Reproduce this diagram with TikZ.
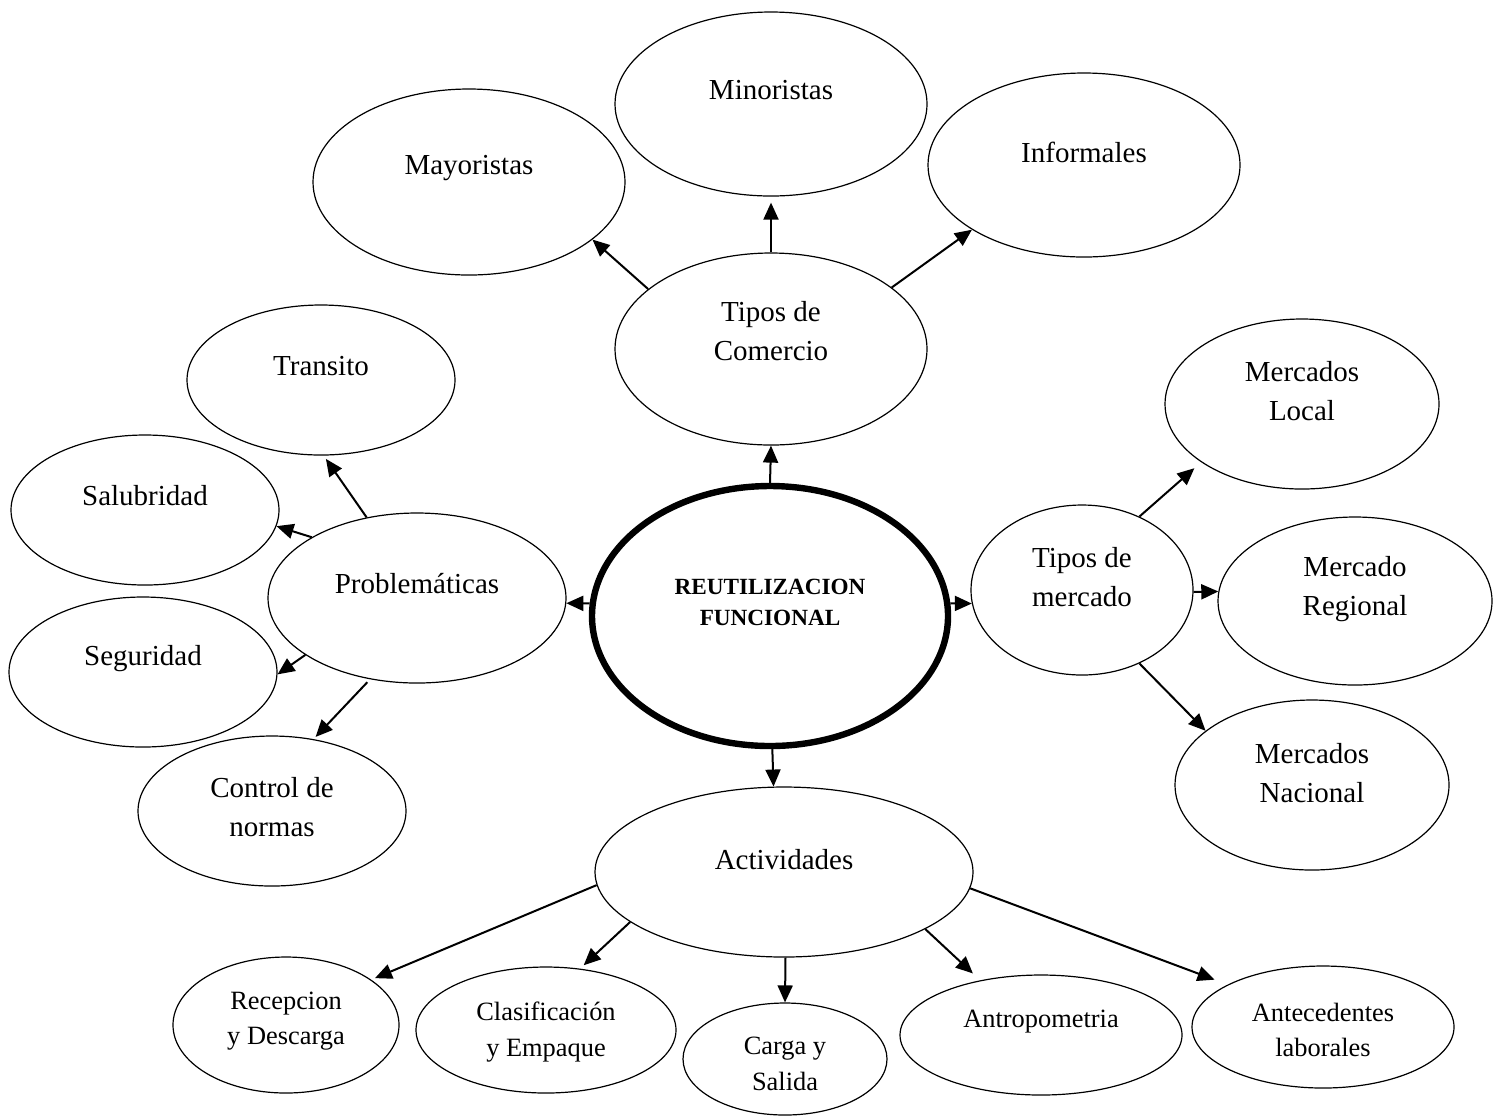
\documentclass[tikz,border=0pt]{standalone}
\usepackage{fontspec}
\setmainfont{Liberation Serif}
\usetikzlibrary{shapes.geometric,arrows.meta}
\begin{document}
\begin{tikzpicture}[x=0.5pt,y=-0.5pt,
  ell/.style={draw, ellipse, line width=0.6pt, inner sep=0pt},
  big/.style={font=\fontsize{14.5}{19.5}\selectfont, align=center},
  small/.style={font=\fontsize{13.2}{17.8}\selectfont, align=center},
  core/.style={font=\fontsize{11.6}{15.5}\selectfont\bfseries, align=center},
  arr/.style={line width=1pt, -{Triangle[length=8.5pt,width=7.5pt]}},
]
\useasboundingbox (0,0) rectangle (1502,1116);

% top
\node[ell, minimum width=156pt, minimum height=93pt, label={[big,yshift=7pt]center:Mayoristas}] (may) at (469,182) {};
\node[ell, minimum width=156pt, minimum height=92pt, label={[big,yshift=7pt]center:Minoristas}] (min) at (771,104) {};
\node[ell, minimum width=156pt, minimum height=92pt, label={[big,yshift=6.5pt]center:Informales}] (inf) at (1084,165) {};
\node[ell, minimum width=156pt, minimum height=96pt, label={[big,yshift=9pt]center:Tipos de\\Comercio}] (tdc) at (771,349) {};

% left
\node[ell, minimum width=134pt, minimum height=75pt, label={[big,yshift=7pt]center:Transito}] (tra) at (321,380) {};
\node[ell, minimum width=134pt, minimum height=75pt, label={[big,yshift=7pt]center:Salubridad}] (sal) at (145,510) {};
\node[ell, minimum width=134pt, minimum height=75pt, label={[big,yshift=6.5pt]center:Seguridad}] (seg) at (143,672) {};
\node[ell, minimum width=134pt, minimum height=75pt, label={[big,yshift=2pt]center:Control de\\normas}] (con) at (272,811) {};
\node[ell, minimum width=149pt, minimum height=85pt, label={[big,yshift=7pt]center:Problemáticas}] (prob) at (417,598) {};

% centre
\node[draw, ellipse, line width=3.2pt, inner sep=0pt, minimum width=178pt, minimum height=130pt,
      label={[core,yshift=7pt]center:REUTILIZACION\\FUNCIONAL}] (reut) at (770,616) {};

% right
\node[ell, minimum width=111pt, minimum height=85pt, label={[big,yshift=6.5pt]center:Tipos de\\mercado}] (tdm) at (1082,590) {};
\node[ell, minimum width=137pt, minimum height=85pt, label={[big,yshift=6.5pt]center:Mercados\\Local}] (loc) at (1302,404) {};
\node[ell, minimum width=137pt, minimum height=84pt, label={[big,yshift=6pt]center:Mercado\\Regional}] (reg) at (1355,601) {};
\node[ell, minimum width=137pt, minimum height=85pt, label={[big,yshift=6pt]center:Mercados\\Nacional}] (nac) at (1312,785) {};

% bottom
\node[ell, minimum width=189pt, minimum height=85pt, label={[big,yshift=6pt]center:Actividades}] (act) at (784,872) {};
\node[ell, minimum width=113pt, minimum height=68pt, label={[small,yshift=2pt]center:Recepcion\\y Descarga}] (rec) at (286,1025) {};
\node[ell, minimum width=130pt, minimum height=63pt, label={[small,yshift=-1pt]center:Clasificación\\y Empaque}] (cla) at (546,1030) {};
\node[ell, minimum width=102pt, minimum height=56pt, label={[small,yshift=-2.5pt]center:Carga y\\Salida}] (car) at (785,1059) {};
\node[ell, minimum width=141pt, minimum height=60pt, label={[small,yshift=6.5pt]center:Antropometria}] (ant) at (1041,1035) {};
\node[ell, minimum width=131pt, minimum height=61pt, label={[small,yshift=-1.5pt]center:Antecedentes\\laborales}] (ate) at (1323,1027) {};

% connectors
\draw[arr] (tdc.154) -- (may.-25);
\draw[arr, shorten >=3pt] (tdc.north) -- (min.south);
\draw[arr] (tdc.27) -- (inf.-150);
\draw[arr] (reut.north) -- (tdc.south);
\draw[arr] (reut.176) -- (prob.-2);
\draw[arr] (reut.4) -- (tdm.187);
\draw[arr] (reut.-89) -- (act.97);
\draw[arr, shorten >=2pt] (prob.122) -- (tra.-88);
\draw[arr] (prob.150) -- (sal.-7);
\draw[arr] (prob.207) -- (seg.-1);
\draw[arr, shorten <=2pt, shorten >=1.5pt] (prob.240) -- (con.60);
\draw[arr, shorten >=4.5pt] (tdm.52) -- (loc.210);
\draw[arr] (tdm.-1) -- (reg.176);
\draw[arr] (tdm.-52) -- (nac.153);
\draw[arr, shorten >=2pt] (act.184) -- (rec.28);
\draw[arr, shorten >=2.5pt] (act.198) -- (cla.61);
\draw[arr] (act.-89) -- (car.north);
\draw[arr, shorten >=5pt] (act.-22) -- (ant.138);
\draw[arr, shorten >=7pt] (act.-5) -- (ate.156);
\end{tikzpicture}
\end{document}
